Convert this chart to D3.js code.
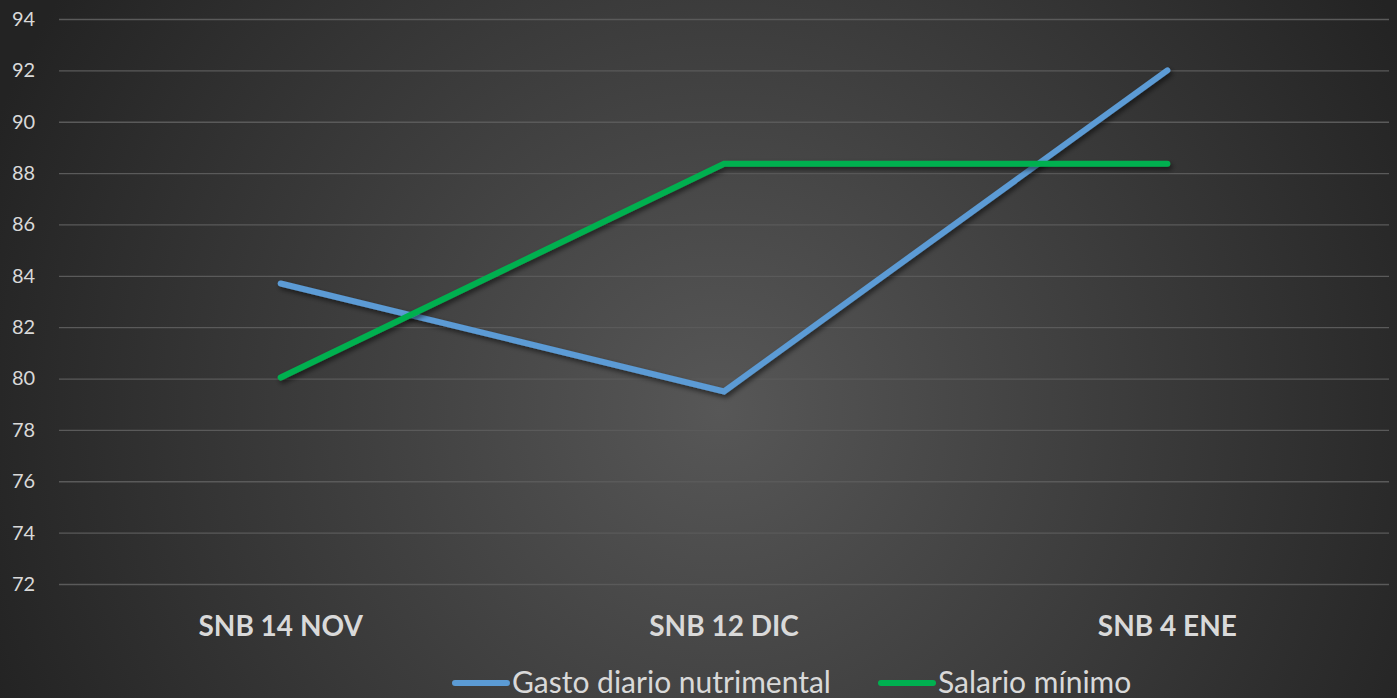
<!DOCTYPE html>
<html>
<head>
<meta charset="utf-8">
<script src="https://cdn.jsdelivr.net/npm/d3@7"></script>
<style>
  html, body { margin: 0; padding: 0; background: #2a2a2a; }
  svg { display: block; }
</style>
</head>
<body>
<svg id="chart" width="1397" height="698"></svg>
<script>
const categories = ["SNB 14 NOV", "SNB 12 DIC", "SNB 4 ENE"];
const gastoValues = [83.7, 79.5, 92.0];
const salarioValues = [80.04, 88.36, 88.36];
const seriesNames = ["Gasto diario nutrimental", "Salario mínimo"];
const seriesColors = ["#5b9bd5", "#00b050"];
const yTicks = [72, 74, 76, 78, 80, 82, 84, 86, 88, 90, 92, 94];

const W = 1397, H = 698;
const margin = { left: 59, right: 8, top: 19, bottom: 114 };
const svg = d3.select("#chart");
const defs = svg.append("defs");

const grad = defs.append("radialGradient")
  .attr("id", "bg").attr("gradientUnits", "userSpaceOnUse")
  .attr("cx", 720).attr("cy", 410).attr("r", 780);
grad.append("stop").attr("offset", "0").attr("stop-color", "#575757");
grad.append("stop").attr("offset", "1").attr("stop-color", "#232323");

const shadow = defs.append("filter").attr("id", "shadow")
  .attr("x", "-20%").attr("y", "-20%").attr("width", "140%").attr("height", "140%");
shadow.append("feDropShadow").attr("dx", 2).attr("dy", 3).attr("stdDeviation", 2.5)
  .attr("flood-color", "#000").attr("flood-opacity", 0.55);

svg.append("rect").attr("width", W).attr("height", H).attr("fill", "url(#bg)");

const x = d3.scaleBand().domain(categories).range([margin.left, W - margin.right]);
const y = d3.scaleLinear().domain([72, 94]).range([H - margin.bottom, margin.top]);

// gridlines
const grid = svg.append("g").call(
  d3.axisLeft(y).tickValues(yTicks).tickSize(-(W - margin.right - margin.left)).tickFormat("")
).attr("transform", `translate(${margin.left},0)`);
grid.select(".domain").remove();
grid.selectAll("line").attr("stroke", "#5a5a5a").attr("stroke-width", 1.3);

// y labels
const yAxis = svg.append("g").attr("transform", `translate(${margin.left},0)`)
  .call(d3.axisLeft(y).tickValues(yTicks).tickSize(0).tickPadding(22));
yAxis.select(".domain").remove();
yAxis.selectAll("text")
  .attr("fill", "#d9d9d9").attr("font-family", "Lato, 'Open Sans', sans-serif")
  .attr("font-size", 20).attr("text-anchor", "start").attr("x", -47);

// x labels
const xAxis = svg.append("g").attr("transform", `translate(0,${H - margin.bottom})`)
  .call(d3.axisBottom(x).tickSize(0).tickPadding(32));
xAxis.select(".domain").remove();
xAxis.selectAll("text")
  .attr("fill", "#d9d9d9").attr("font-family", "Lato, 'Open Sans', sans-serif")
  .attr("font-weight", "bold").attr("font-size", 28);

const line = d3.line()
  .x((d, i) => x(categories[i]) + x.bandwidth() / 2)
  .y(d => y(d));

[gastoValues, salarioValues].forEach((vals, k) => {
  svg.append("path").datum(vals)
    .attr("d", line)
    .attr("fill", "none")
    .attr("stroke", seriesColors[k])
    .attr("stroke-width", 6)
    .attr("stroke-linecap", "round")
    .attr("stroke-linejoin", "miter")
    .attr("filter", "url(#shadow)");
});

// legend
const legendItems = [
  { name: seriesNames[0], color: seriesColors[0], x0: 455 },
  { name: seriesNames[1], color: seriesColors[1], x0: 881 }
];
const ly = 683;
legendItems.forEach(it => {
  svg.append("line").attr("x1", it.x0).attr("x2", it.x0 + 52)
    .attr("y1", ly).attr("y2", ly)
    .attr("stroke", it.color).attr("stroke-width", 6).attr("stroke-linecap", "round");
  svg.append("text").attr("x", it.x0 + 57).attr("y", ly + 10)
    .attr("fill", "#d9d9d9").attr("font-family", "Lato, 'Open Sans', sans-serif")
    .attr("font-size", 30).text(it.name);
});
</script>
</body>
</html>
